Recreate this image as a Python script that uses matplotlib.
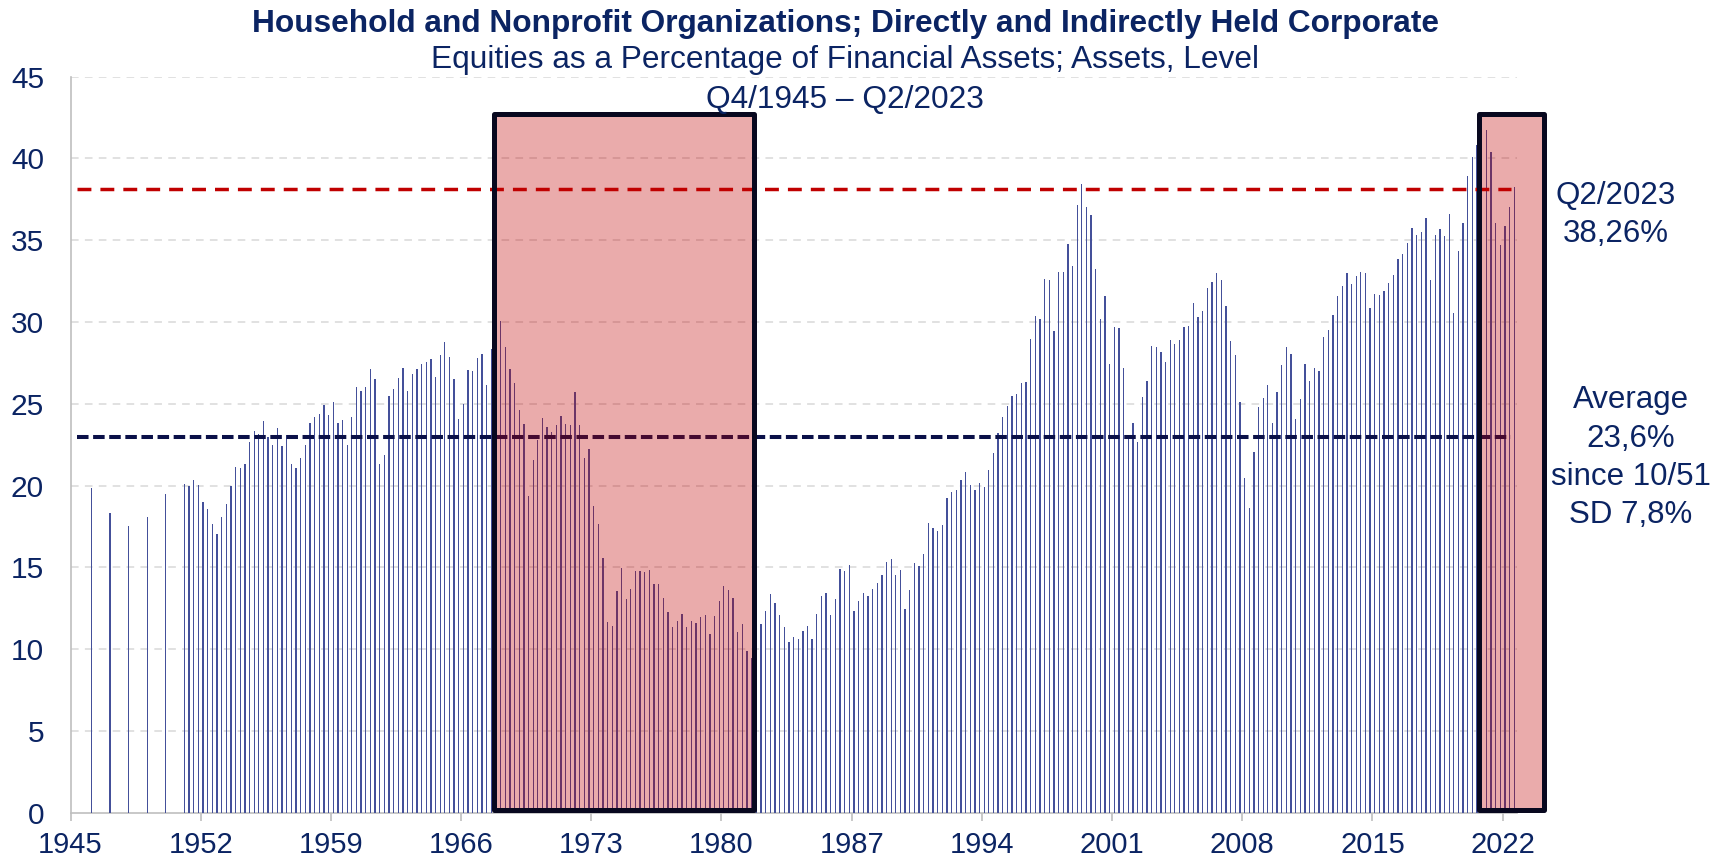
import numpy as np
import matplotlib
matplotlib.use("Agg")
import matplotlib.pyplot as plt
from matplotlib.patches import Rectangle

# ---------------- data ----------------
first_quarter = (1945, 4)      # first category on the axis (Q4/1945)
last_quarter = (2023, 2)       # last category (Q2/2023)

# annual observations (Q4 of each year) before quarterly data starts
annual_years = [1945, 1946, 1947, 1948, 1949, 1950]
annual_values = [np.nan, 19.86, 18.33, 17.54, 18.07, 19.47]

# quarterly observations from Q4/1951 to Q2/2023
quarterly_start = (1951, 4)
quarterly_values = [
    20.10,                                   # 1951 Q4
    20.00, 20.35, 20.06, 19.00,              # 1952
    18.55, 17.66, 17.07, 18.07,              # 1953
    18.88, 19.98, 21.12, 21.06,              # 1954
    21.32, 22.67, 23.32, 23.18,              # 1955
    23.93, 22.97, 22.50, 23.50,              # 1956
    22.40, 23.10, 21.30, 21.10,              # 1957
    21.70, 22.50, 23.80, 24.20,              # 1958
    24.40, 24.90, 24.30, 25.10,              # 1959
    23.80, 24.00, 22.50, 24.20,              # 1960
    26.00, 25.80, 26.00, 27.10,              # 1961
    26.50, 21.30, 21.90, 25.50,              # 1962
    25.90, 26.60, 27.20, 25.80,              # 1963
    26.80, 27.10, 27.46, 27.56,              # 1964
    27.74, 26.66, 27.97, 28.78,              # 1965
    27.85, 26.54, 24.10, 25.00,              # 1966
    27.07, 27.00, 27.83, 28.07,              # 1967
    26.16, 28.36, 29.00, 30.05,              # 1968
    28.48, 27.15, 26.26, 24.63,              # 1969
    23.79, 19.39, 21.57, 22.80,              # 1970
    24.12, 23.61, 23.30, 23.71,              # 1971
    24.26, 23.77, 23.69, 25.71,              # 1972
    23.71, 21.71, 22.22, 18.76,              # 1973
    17.66, 15.60, 11.69, 11.42,              # 1974
    13.56, 14.99, 13.07, 13.67,              # 1975
    14.79, 14.81, 14.73, 14.85,              # 1976
    13.99, 13.99, 13.11, 12.28,              # 1977
    11.36, 11.75, 12.18, 11.36,              # 1978
    11.75, 11.63, 11.95, 12.10,              # 1979
    10.94, 12.02, 12.97, 13.85,              # 1980
    13.62, 13.12, 11.06, 11.55,              # 1981
    9.92, 9.45, 10.50, 11.55,                # 1982
    12.32, 13.40, 12.81, 12.10,              # 1983
    11.34, 10.47, 10.77, 10.61,              # 1984
    11.12, 11.44, 10.63, 12.16,              # 1985
    13.24, 13.44, 12.10, 13.07,              # 1986
    14.93, 14.79, 15.13, 12.34,              # 1987
    12.97, 13.42, 13.26, 13.69,              # 1988
    14.03, 14.54, 15.32, 15.52,              # 1989
    14.52, 14.85, 12.46, 13.60,              # 1990
    15.25, 15.11, 15.85, 17.70,              # 1991
    17.40, 17.23, 17.58, 19.25,              # 1992
    19.61, 19.74, 20.33, 20.84,              # 1993
    20.04, 19.76, 20.16, 19.92,              # 1994
    20.94, 21.98, 23.20, 24.18,              # 1995
    24.87, 25.50, 25.59, 26.30,              # 1996
    26.34, 28.99, 30.37, 30.21,              # 1997
    32.65, 32.57, 29.46, 33.06,              # 1998
    33.08, 34.77, 33.41, 37.16,              # 1999
    38.42, 37.02, 36.55, 33.23,              # 2000
    30.17, 31.60, 27.42, 29.70,              # 2001
    29.66, 27.19, 22.90, 23.85,              # 2002
    22.67, 25.40, 26.42, 28.54,              # 2003
    28.48, 28.19, 27.58, 28.90,              # 2004
    28.64, 28.90, 29.72, 29.78,              # 2005
    31.19, 30.31, 30.70, 32.07,              # 2006
    32.45, 32.98, 32.55, 30.98,              # 2007
    28.86, 27.99, 25.10, 20.49,              # 2008
    18.64, 22.04, 24.79, 25.38,              # 2009
    26.15, 23.81, 25.71, 27.36,              # 2010
    28.50, 28.03, 24.10, 25.28,              # 2011
    27.44, 26.40, 27.21, 27.03,              # 2012
    29.11, 29.52, 30.42, 31.60,              # 2013
    32.19, 32.98, 32.33, 32.82,              # 2014
    33.04, 33.02, 30.86, 31.74,              # 2015
    31.66, 31.92, 32.39, 32.86,              # 2016
    33.84, 34.18, 34.82, 35.75,              # 2017
    35.32, 35.53, 36.36, 32.59,              # 2018
    35.32, 35.69, 35.24, 36.63,              # 2019
    30.54, 34.35, 36.04, 38.93,              # 2020
    40.11, 40.80, 40.97, 41.74,              # 2021
    40.40, 36.04, 34.71, 35.87,              # 2022
    37.05, 38.26,                            # 2023
]

tick_years = [1945, 1952, 1959, 1966, 1973, 1980, 1987, 1994, 2001, 2008, 2015, 2022]
y_ticks = [0, 5, 10, 15, 20, 25, 30, 35, 40, 45]

latest_level = 38.1      # red dashed reference line
average_level = 23.0     # navy dashed average line

title_lines = [
    "Household and Nonprofit Organizations; Directly and Indirectly Held Corporate",
    "Equities as a Percentage of Financial Assets; Assets, Level",
    "Q4/1945 \u2013 Q2/2023",
]
latest_text = ["Q2/2023", "38,26%"]
average_text = ["Average", "23,6%", "since 10/51", "SD 7,8%"]

# highlighted periods (first quarter, last quarter)
highlight_periods = [((1968, 3), (1982, 2)), ((2021, 2), (2024, 4))]

# ---------------- build category axis ----------------
def qindex(y, q):
    return (y - first_quarter[0]) * 4 + (q - first_quarter[1])

n_cat = qindex(*last_quarter) + 1
values = np.full(n_cat, np.nan)
for yr, v in zip(annual_years, annual_values):
    values[qindex(yr, 4)] = v
start = qindex(*quarterly_start)
values[start:start + len(quarterly_values)] = quarterly_values
centers = np.arange(n_cat) + 0.5

# ---------------- figure ----------------
W, H = 1729, 861
plt.rcParams["font.family"] = ["Liberation Sans", "DejaVu Sans"]
plt.rcParams["lines.scale_dashes"] = False
fig = plt.figure(figsize=(W / 100, H / 100), dpi=100)

ax_l, ax_r, ax_b, ax_t = 70.5, 1516.6, 812.9, 76.6
ax = fig.add_axes([ax_l / W, 1 - ax_b / H, (ax_r - ax_l) / W, (ax_b - ax_t) / H])

text_color = "#0B2463"
bar_color = "#44509A"

mask = ~np.isnan(values)
ax.bar(centers[mask], values[mask], width=0.28, color=bar_color, linewidth=0, zorder=2)

ax.set_xlim(0, n_cat)
ax.set_ylim(0, 45)

# grid
for yv in y_ticks[1:]:
    ax.axhline(yv, color="#D9D9D9", lw=1.1, dashes=(5.5, 4.5), zorder=0.5)

# reference lines
x0_line, x1_line = 1.3, n_cat - 1.2
ax.plot([x0_line, x1_line], [latest_level] * 2, color="#C00000", lw=2.5,
        dashes=(10, 6.5), zorder=3, dash_capstyle="butt")
ax.plot([x0_line, x1_line], [average_level] * 2, color="#0A1048", lw=2.9,
        dashes=(8.3, 3.3), zorder=3, dash_capstyle="butt")

# highlight boxes (drawn semi-transparent over the bars)
box_offsets = [(0.1, 0.92), (0.84, 0.92)]
for (a, b), (oa, ob) in zip(highlight_periods, box_offsets):
    xa = qindex(*a) + oa
    xb = qindex(*b) + ob
    rect = Rectangle((xa, 0.15), xb - xa, 42.55, facecolor=(0.753, 0.0, 0.0, 0.33),
                     edgecolor="#08081F", lw=3.6, joinstyle="round",
                     zorder=4, clip_on=False)
    ax.add_patch(rect)

# axes styling
for s in ["top", "right"]:
    ax.spines[s].set_visible(False)
for s in ["left", "bottom"]:
    ax.spines[s].set_color("#BFBFBF")
    ax.spines[s].set_linewidth(1.2)
    ax.spines[s].set_zorder(1)

ax.set_yticks(y_ticks)
ax.set_yticklabels([str(v) for v in y_ticks])
ax.tick_params(axis="y", length=0, pad=19, labelsize=21.5, labelcolor=text_color)

ax.set_xticks([qindex(y, 4) for y in tick_years])
ax.set_xticklabels([str(y) for y in tick_years])
ax.tick_params(axis="x", length=5.8, width=1.2, color="#BFBFBF", direction="out",
               pad=7.5, labelsize=21, labelcolor=text_color)

# titles
title_x = 845
fig.text(title_x / W, 1 - 32 / H, title_lines[0], ha="center", va="baseline",
         fontsize=22.8, fontweight="bold", color=text_color)
fig.text(title_x / W, 1 - 68 / H, title_lines[1], ha="center", va="baseline",
         fontsize=22.8, color=text_color)
fig.text(title_x / W, 1 - 108 / H, title_lines[2], ha="center", va="baseline",
         fontsize=22.8, color=text_color)

# right annotations
for txt, yb in zip(latest_text, [204, 242]):
    fig.text(1616 / W, 1 - yb / H, txt, ha="center", va="baseline",
             fontsize=22.5, color=text_color)
for txt, yb in zip(average_text, [408, 447, 485, 523]):
    fig.text(1631 / W, 1 - yb / H, txt, ha="center", va="baseline",
             fontsize=22.5, color=text_color)

fig.savefig("out.png", dpi=100)
